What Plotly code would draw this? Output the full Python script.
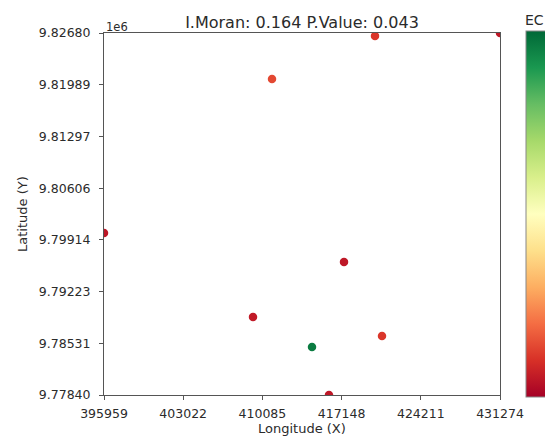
import numpy as np
import plotly.graph_objects as go

# Data
longitude = [420127, 431274, 410941, 395959, 417362, 409247, 420751, 414508, 416025]
latitude = [9826400, 9826800, 9820650, 9800060, 9796183, 9788829, 9786289, 9784818, 9778400]
ec_values = [0.42, 0.30, 0.48, 0.29, 0.30, 0.31, 0.42, 2.12, 0.30]

x_tick_labels = ["395959", "403022", "410085", "417148", "424211", "431274"]
y_tick_labels = ["9.77840", "9.78531", "9.79223", "9.79914", "9.80606", "9.81297", "9.81989", "9.82680"]

title_text = "I.Moran: 0.164 P.Value: 0.043"
ec_min, ec_max = 0.2, 2.2

W, H = 545, 436
L, R, T, B = 104, 500, 33, 395

x_range = [min(longitude), max(longitude)]
y_range = [min(latitude), max(latitude)]
x_tickvals = np.linspace(x_range[0], x_range[1], len(x_tick_labels))
y_tickvals = np.linspace(y_range[0], y_range[1], len(y_tick_labels))

font_family = "DejaVu Sans"
txt_color = "#2b2b2b"
line_color = "#555555"

fig = go.Figure()
fig.add_trace(go.Scatter(
    x=longitude, y=latitude, mode="markers",
    marker=dict(
        size=8.5, color=ec_values, colorscale="RdYlGn", cmin=ec_min, cmax=ec_max,
        line=dict(width=0),
        colorbar=dict(
            xref="container", x=526 / W, xanchor="left", xpad=0,
            yref="paper", y=0.5, yanchor="middle", len=1.01, ypad=0,
            thickness=30, outlinewidth=1, outlinecolor="#888888",
            showticklabels=False, ticks="",
        ),
    ),
    cliponaxis=True,
    hoverinfo="skip",
    showlegend=False,
))

pw = R - L
ph = B - T

fig.update_layout(
    width=W, height=H,
    margin=dict(l=L, r=W - R, t=T, b=H - B, pad=0, autoexpand=False),
    paper_bgcolor="white", plot_bgcolor="white",
    font=dict(family=font_family, size=12.5, color=txt_color),
    title=dict(text=title_text, x=302 / W, xref="container", xanchor="center",
               y=1 - 22 / H, yref="container", yanchor="middle",
               font=dict(size=16, color=txt_color)),
    xaxis=dict(range=x_range, tickvals=x_tickvals, ticktext=x_tick_labels,
               showgrid=False, zeroline=False, showline=True, mirror=True,
               linecolor=line_color, linewidth=1, ticks="outside", ticklen=4,
               ticklabelstandoff=3,
               tickcolor=line_color, tickfont=dict(size=12.5, color=txt_color)),
    yaxis=dict(range=y_range, tickvals=y_tickvals, ticktext=y_tick_labels,
               showgrid=False, zeroline=False, showline=True, mirror=True,
               linecolor=line_color, linewidth=1, ticks="outside", ticklen=4,
               ticklabelstandoff=6,
               tickcolor=line_color, tickfont=dict(size=12.5, color=txt_color)),
    annotations=[
        dict(text="Longitude (X)", xref="paper", yref="paper",
             x=(302 - L) / pw, y=-(428 - B) / ph, xanchor="center", yanchor="middle",
             showarrow=False, font=dict(size=13, color=txt_color)),
        dict(text="Latitude (Y)", xref="paper", yref="paper", textangle=-90,
             x=(22 - L) / pw, y=0.5, xanchor="center", yanchor="middle",
             showarrow=False, font=dict(size=13, color=txt_color)),
        dict(text="1e6", xref="paper", yref="paper",
             x=0, y=1 + (T - 27) / ph, xanchor="left", yanchor="middle",
             showarrow=False, font=dict(size=11.5, color=txt_color)),
        dict(text="EC", xref="paper", yref="paper",
             x=(523 - L) / pw, y=1 + (T - 20) / ph, xanchor="left", yanchor="middle",
             showarrow=False, font=dict(size=14, color=txt_color)),
    ],
)

fig.write_html(
    "out.html",
    config={"displayModeBar": False},
    post_script="document.body.style.margin='0';document.body.style.overflow='hidden';",
)
